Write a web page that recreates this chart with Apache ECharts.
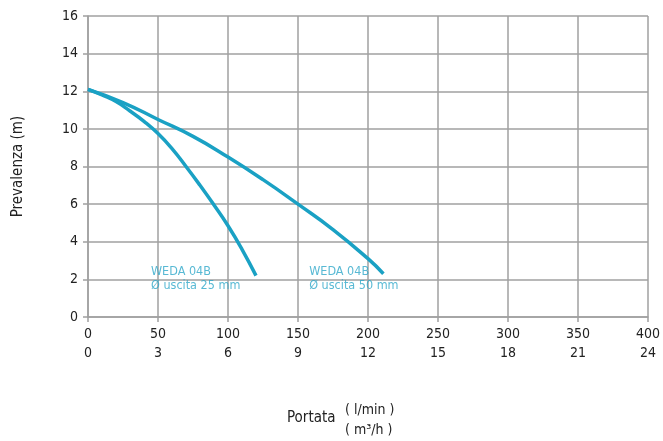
<!DOCTYPE html>
<html><head><meta charset="utf-8">
<script src="https://cdn.jsdelivr.net/npm/echarts@6/dist/echarts.min.js"></script>
<style>html,body{margin:0;padding:0;background:#fff}#c{width:663px;height:441px}</style>
</head><body><div id="c"></div>
<script>
// Data (x: flow in l/min, y: head in m)
var curve25 = [[0,12.1],[10,11.8],[20,11.45],[30,10.95],[40,10.4],[50,9.75],[60,8.95],[70,8.0],[80,7.0],[90,5.95],[100,4.85],[110,3.6],[120,2.2]];
var curve50 = [[0,12.1],[25,11.4],[50,10.5],[75,9.6],[100,8.5],[125,7.3],[150,6.0],[175,4.65],[200,3.1],[211,2.3]];
var xTicksLmin = [0,50,100,150,200,250,300,350,400];
var xTicksM3h = [0,3,6,9,12,15,18,21,24];
var labels = [
  {pos:[45,2.02], name:'WEDA 04B', sub:'Ø uscita 25 mm'},
  {pos:[158,2.02], name:'WEDA 04B', sub:'Ø uscita 50 mm'}
];
var FONT = '"Liberation Sans Narrow", "DejaVu Sans Condensed", sans-serif';
var gridColor = '#a0a0a0';
var lineColor = '#1aa1c4';
var textColor = '#2ea8c9';

var chart = echarts.init(document.getElementById('c'));
chart.setOption({
  animation:false,
  grid:{left:88,right:12,top:16,bottom:124},
  xAxis:{type:'value',min:0,max:400,interval:50,
    axisLine:{show:true,lineStyle:{color:gridColor,width:1.5}},
    axisTick:{show:true,length:5,lineStyle:{color:gridColor,width:1.5}},
    splitLine:{show:true,lineStyle:{color:gridColor,width:1.5}},
    axisLabel:{fontFamily:FONT,fontSize:14,color:'#222',margin:8,lineHeight:19,
      formatter:function(v){var i=xTicksLmin.indexOf(v);return v+'\n'+(i>=0?xTicksM3h[i]:'');}}
  },
  yAxis:{type:'value',min:0,max:16,interval:2,
    name:'Prevalenza (m)',nameLocation:'middle',nameGap:62,
    nameTextStyle:{fontFamily:FONT,fontSize:15,color:'#222'},
    axisLine:{show:true,lineStyle:{color:gridColor,width:1.5}},
    axisTick:{show:true,length:5,lineStyle:{color:gridColor,width:1.5}},
    splitLine:{show:true,lineStyle:{color:gridColor,width:1.5}},
    axisLabel:{fontFamily:FONT,fontSize:14,color:'#222',margin:10}
  },
  series:[
    {type:'line',data:curve25,smooth:true,showSymbol:false,lineStyle:{color:lineColor,width:3.5}},
    {type:'line',data:curve50,smooth:true,showSymbol:false,lineStyle:{color:lineColor,width:3.5}},
    {type:'scatter',symbolSize:0,data:labels.map(function(l){return {value:l.pos,name:l.name,sub:l.sub};}),
      label:{show:true,position:'inside',align:'left',verticalAlign:'middle',
        fontFamily:FONT,fontSize:12.5,color:textColor,lineHeight:14,
        formatter:function(p){return p.data.name+'\n'+p.data.sub;}}}
  ],
  graphic:[
    {type:'text',left:287,top:411,style:{text:'Portata',font:'15px '+FONT,fill:'#222'}},
    {type:'text',left:345,top:403,style:{text:'( l/min )',font:'14px '+FONT,fill:'#222'}},
    {type:'text',left:345,top:423,style:{text:'( m³/h )',font:'14px '+FONT,fill:'#222'}}
  ]
});
</script></body></html>
